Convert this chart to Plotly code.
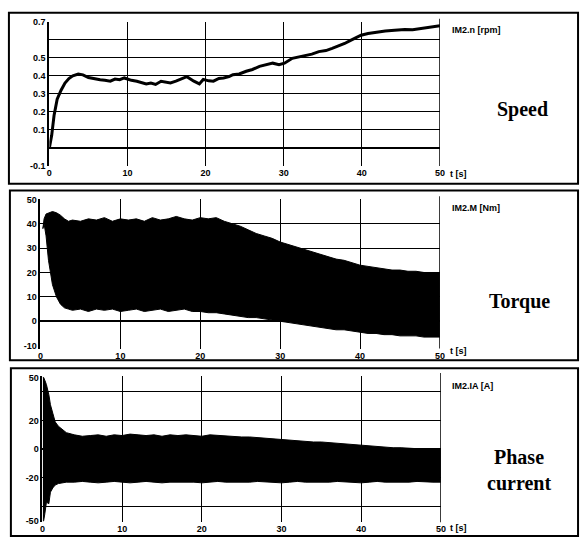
import plotly.graph_objects as go

W, H = 586, 543

# ---------------- data ----------------
X_TICKS = [0, 10, 20, 30, 40, 50]

speed_t = [0, 0.3, 0.6, 1.0, 1.5, 2.0, 2.5, 3.0, 3.7, 4.3, 5.0, 5.8, 6.5, 7.1, 7.8, 8.4,
           9.0, 9.6, 10.5, 11.2, 11.8, 12.4, 13.0, 13.6, 14.3, 14.9, 15.5, 16.2, 16.8,
           17.6, 18.5, 19.2, 19.7, 20.4, 21.0, 21.7, 22.3, 23.0, 23.5, 24.3, 25.2, 26.0,
           26.9, 27.7, 28.6, 29.4, 30.1, 31.1, 32.0, 32.8, 33.6, 34.5, 35.4, 36.2, 37.0,
           37.8, 38.5, 39.1, 39.9, 40.8, 42.0, 43.0, 44.2, 45.5, 46.5, 47.5, 48.5, 49.3, 50.0]
speed_v = [0.0, 0.07, 0.18, 0.27, 0.32, 0.36, 0.385, 0.40, 0.41, 0.405, 0.39, 0.382, 0.378,
           0.375, 0.37, 0.382, 0.378, 0.388, 0.375, 0.37, 0.364, 0.355, 0.36, 0.352, 0.37,
           0.365, 0.36, 0.37, 0.382, 0.395, 0.37, 0.355, 0.38, 0.372, 0.37, 0.385, 0.388,
           0.395, 0.406, 0.41, 0.425, 0.435, 0.452, 0.46, 0.47, 0.462, 0.47, 0.497, 0.505,
           0.515, 0.52, 0.534, 0.54, 0.552, 0.565, 0.579, 0.595, 0.607, 0.625, 0.634, 0.643,
           0.648, 0.652, 0.657, 0.655, 0.662, 0.668, 0.672, 0.678]
speed_ticks = [0.7, 0.5, 0.4, 0.3, 0.2, 0.1, -0.1]
speed_grid = [0.0, 0.1, 0.2, 0.3, 0.4, 0.5, 0.6]

torque_t = [0.3, 0.45, 0.7, 1.0, 1.5, 2.0, 2.5, 3.0, 3.5, 4, 5, 6, 7, 8, 9, 10, 11, 12, 13,
            14, 15, 16, 17, 18, 19, 20, 21, 22, 23, 24, 25, 26, 27, 28, 29, 30, 31, 32, 33,
            34, 35, 36, 37, 38, 39, 40, 41, 42, 43, 44, 45, 46, 47, 48, 49, 50]
torque_hi = [38, 42, 44, 44.5, 45, 44.5, 43.5, 42, 41, 41.5, 41, 42, 41.5, 42.5, 41, 42, 41.5,
             42, 41, 42.5, 41.5, 42, 43, 42, 41.5, 42.5, 42, 42.5, 41, 40, 39, 37.5, 36, 35,
             34, 32.5, 31.5, 30.5, 29.5, 28.5, 27.5, 26.5, 25.5, 25, 24, 23, 22.5, 22, 21.5,
             21, 21, 20.5, 20.5, 20, 20, 20]
torque_lo = [38, 40, 35, 25, 15, 10, 7, 5.5, 5, 4.5, 5, 4, 5, 4.5, 5, 4, 4.5, 5, 4, 4.5, 5,
             4, 4.5, 5, 4, 4, 3.5, 3.5, 3, 2.5, 2, 1.5, 1.5, 1, 0.5, 0, -0.5, -1, -1.5, -2,
             -2.5, -3, -3.5, -3.5, -4, -4.5, -5, -5, -5.5, -5.5, -6, -6, -6, -6.5, -6.5, -6.5]
torque_ticks = [50, 40, 30, 20, 10, 0, -10]
torque_grid = [10, 20, 30, 40]

current_t = [0.05, 0.15, 0.3, 0.5, 0.8, 1.0, 1.3, 1.6, 2.0, 2.5, 3, 4, 5, 6, 7, 8, 9, 10, 11,
             12, 13, 14, 15, 16, 17, 18, 19, 20, 21, 22, 23, 24, 25, 26, 27, 28, 29, 30, 31,
             32, 33, 34, 35, 36, 37, 38, 39, 40, 41, 42, 43, 44, 45, 46, 47, 48, 49, 50]
current_hi = [50, 50, 48, 45, 38, 31, 25, 19, 16, 13.5, 11.5, 10, 9, 9.5, 10, 9, 10, 9.5, 10.5,
              10, 9.5, 10, 9, 10, 9.5, 10, 9.5, 9, 10, 9.5, 9, 9, 8.5, 8.5, 8, 7.5, 7, 7,
              6.5, 6, 5.5, 5, 5, 4.5, 4, 3.5, 3, 3, 2.5, 2, 1.5, 1, 1, 0.5, 0.5, 0, 0, 0]
current_lo = [-50, -50, -45, -37, -38, -30, -27, -25, -24, -23.5, -23, -23, -22.5, -23, -23.5,
              -23, -22.5, -23, -23.5, -23, -22.5, -23, -23.5, -23, -23, -22.5, -23, -23.5,
              -23, -22.5, -23, -23, -23.5, -23, -22.5, -23, -23, -23.5, -23, -22.5, -23,
              -23, -23.5, -23, -22.5, -23, -23, -23.5, -23, -22.5, -23, -23, -23.5, -23,
              -22.5, -23, -23, -23]
current_ticks = [50, 20, 0, -20, -50]
current_grid = [-40, -20, 0, 20, 40]

# ---------------- layout helpers ----------------
def px_x(a, b):
    return [a / W, b / W]

def px_y(top, bottom):
    return [1 - bottom / H, 1 - top / H]

TICKFONT = dict(family="Liberation Sans", size=9, color="black", weight="bold")

fig = go.Figure()

# Speed
fig.add_trace(go.Scatter(x=speed_t, y=speed_v, mode="lines",
                         line=dict(color="black", width=3), xaxis="x", yaxis="y",
                         showlegend=False, hoverinfo="skip"))
# Torque band
fig.add_trace(go.Scatter(x=torque_t, y=torque_hi, mode="lines",
                         line=dict(color="black", width=1), xaxis="x2", yaxis="y2",
                         showlegend=False, hoverinfo="skip"))
fig.add_trace(go.Scatter(x=torque_t, y=torque_lo, mode="lines", fill="tonexty",
                         fillcolor="black", line=dict(color="black", width=1),
                         xaxis="x2", yaxis="y2", showlegend=False, hoverinfo="skip"))
# Current band
fig.add_trace(go.Scatter(x=current_t, y=current_hi, mode="lines",
                         line=dict(color="black", width=1), xaxis="x3", yaxis="y3",
                         showlegend=False, hoverinfo="skip"))
fig.add_trace(go.Scatter(x=current_t, y=current_lo, mode="lines", fill="tonexty",
                         fillcolor="black", line=dict(color="black", width=1),
                         xaxis="x3", yaxis="y3", showlegend=False, hoverinfo="skip"))


def xax(domain, anchor):
    return dict(domain=domain, anchor=anchor, range=[0, 50], tickvals=X_TICKS,
                showgrid=True, gridcolor="black", gridwidth=1, showline=False,
                zeroline=False, ticks="", tickfont=TICKFONT, fixedrange=True)


def yax(domain, anchor, rng, ticks, grid):
    return dict(domain=domain, anchor=anchor, range=rng, tickvals=ticks,
                ticktext=[f"{v:g}" for v in ticks], showgrid=False,
                showline=True, linecolor="black", linewidth=2, ticks="",
                zeroline=True, zerolinecolor="black", zerolinewidth=2,
                tickfont=TICKFONT, fixedrange=True,
                minor=dict(tickvals=grid, showgrid=True, gridcolor="black",
                           gridwidth=1, ticks=""))


fig.update_layout(
    width=W, height=H, margin=dict(l=0, r=0, t=0, b=0),
    paper_bgcolor="white", plot_bgcolor="white",
    xaxis=xax(px_x(47, 443), "y"),
    yaxis=yax(px_y(17, 164), "x", [-0.1, 0.7], speed_ticks, speed_grid),
    xaxis2=xax(px_x(38, 443), "y2"),
    yaxis2=yax(px_y(198, 350), "x2", [-11.2, 50], torque_ticks, torque_grid),
    xaxis3=xax(px_x(40, 444), "y3"),
    yaxis3=yax(px_y(378, 527), "x3", [-51, 51], current_ticks, current_grid),
)

# panel frames and right border lines
frames = [(6, 8, 583, 182), (7, 189, 583, 362), (8, 370, 583, 541)]
for x0, y0, x1, y1 in frames:
    fig.add_shape(type="rect", xref="paper", yref="paper",
                  x0=x0 / W, x1=x1 / W, y0=1 - y1 / H, y1=1 - y0 / H,
                  line=dict(color="black", width=2), fillcolor="rgba(0,0,0,0)")
for xr, yr in [("x", "y"), ("x2", "y2"), ("x3", "y3")]:
    fig.add_shape(type="line", xref=xr, yref=f"{yr} domain", x0=50, x1=50, y0=0, y1=1.02,
                  line=dict(color="black", width=1.5))

SMALL = dict(family="Liberation Sans", size=9, color="black", weight="bold")
BIG = dict(family="Liberation Serif", size=20, color="black", weight="bold")

units = [("IM2.n [rpm]", 25), ("IM2.M [Nm]", 207), ("IM2.IA [A]", 388)]
for txt, y in units:
    fig.add_annotation(text=txt, xref="paper", yref="paper", x=453 / W, y=1 - y / H,
                       xanchor="left", yanchor="middle", showarrow=False, font=SMALL)
for y in [172, 353, 533]:
    fig.add_annotation(text="t [s]", xref="paper", yref="paper", x=451 / W, y=1 - y / H,
                       xanchor="left", yanchor="middle", showarrow=False, font=SMALL)

labels = [("Speed", 527, 106), ("Torque", 524, 302), ("Phase<br>current", 523, 474)]
for txt, x, y in labels:
    fig.add_annotation(text=txt, xref="paper", yref="paper", x=x / W, y=1 - y / H,
                       xanchor="center", yanchor="middle", showarrow=False, font=BIG,
                       align="center")

fig.write_html("out.html", config={"displayModeBar": False},
               post_script="document.body.style.margin='0px';document.body.style.overflow='hidden';")
